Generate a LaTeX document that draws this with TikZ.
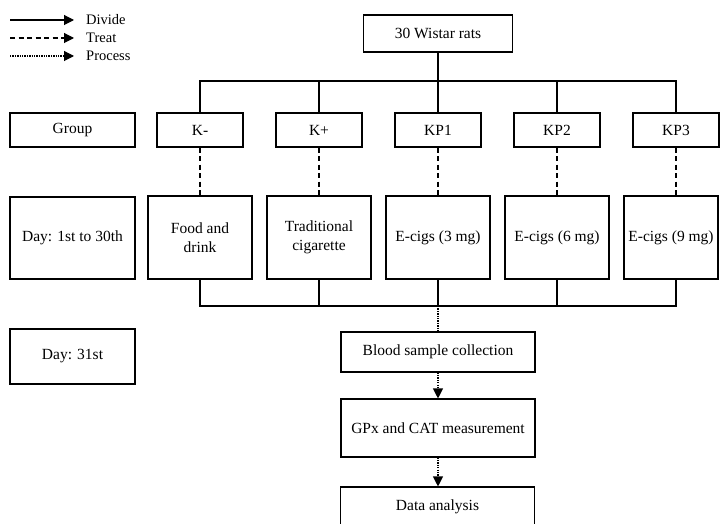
\documentclass[tikz,border=0pt]{standalone}
\usepackage{fontspec}
\setmainfont{Liberation Serif}
\usetikzlibrary{arrows.meta}
\begin{document}
\begin{tikzpicture}[x=1pt,y=-1pt,
  box/.style={draw, line width=1.1pt, inner sep=0pt, align=center, font=\fontsize{15.5}{18.5}\selectfont},
  lbl/.style={inner sep=0pt, anchor=west, font=\fontsize{14.5}{16}\selectfont},
  solidln/.style={line width=1.1pt},
  dashln/.style={line width=1.1pt, dash pattern=on 5pt off 3.5pt},
  dotln/.style={line width=1.1pt, dash pattern=on 1.3pt off 1.1pt},
  tip/.style={-{Triangle[length=10pt,width=10pt]}}
]
\useasboundingbox (0,0) rectangle (720,524);

% legend
\coordinate (la1) at (10,20);  \coordinate (lb1) at (74,20);
\coordinate (la2) at (10,38);  \coordinate (lb2) at (74,38);
\coordinate (la3) at (10,56);  \coordinate (lb3) at (74,56);
\draw[solidln,tip] (la1) -- (lb1);
\draw[dashln,tip] (la2) -- (lb2);
\draw[dotln,tip] (la3) -- (lb3);
\node[lbl] (tdiv) at (86,20) {Divide};
\node[lbl] (ttre) at (86,38) {Treat};
\node[lbl] (tpro) at (86,56) {Process};

% top
\node[box, minimum width=149pt, minimum height=37pt] (rats) at (438,33.5) {30 Wistar rats};
\coordinate (jtop) at (438,81);

% row labels
\node[box, minimum width=125pt, minimum height=34pt] (grp) at (72.5,130) {Group};
\node[box, minimum width=125pt, minimum height=82pt] (d130) at (72.5,238) {Day: 1st to 30th};
\node[box, minimum width=125pt, minimum height=55pt] (d31) at (72.5,356.5) {Day: 31st};

% groups
\node[box, minimum width=86pt, minimum height=34pt] (g1) at (200,130) {K-};
\node[box, minimum width=86pt, minimum height=34pt] (g2) at (319,130) {K+};
\node[box, minimum width=86pt, minimum height=34pt] (g3) at (438,130) {KP1};
\node[box, minimum width=86pt, minimum height=34pt] (g4) at (557,130) {KP2};
\node[box, minimum width=86pt, minimum height=34pt] (g5) at (676,130) {KP3};

% treatments
\node[box, minimum width=104pt, minimum height=83pt] (t1) at (200,237.5) {Food and\\drink};
\node[box, minimum width=104pt, minimum height=83pt] (t2) at (319,237.5) {Traditional\\cigarette};
\node[box, minimum width=104pt, minimum height=83pt] (t3) at (438,237.5) {E-cigs (3 mg)};
\node[box, minimum width=104pt, minimum height=83pt] (t4) at (557,237.5) {E-cigs (6 mg)};
\node[box, minimum width=94pt, minimum height=83pt] (t5) at (671,237.5) {E-cigs (9 mg)};

\coordinate (jbot) at (438,306);

% process
\node[box, minimum width=194pt, minimum height=40pt] (blood) at (438,352) {Blood sample collection};
\node[box, minimum width=194pt, minimum height=58pt] (gpx) at (438,428) {GPx and CAT measurement};
\node[box, minimum width=194pt, minimum height=40pt] (data) at (437.5,507) {Data analysis};

% divide connectors
\draw[solidln] (rats.south) -- (jtop);
\draw[solidln] (g1.north) -- (g1.north |- jtop) -- (g5.north |- jtop) -- (g5.north);
\draw[solidln] (g2.north) -- (g2.north |- jtop);
\draw[solidln] (g3.north) -- (g3.north |- jtop);
\draw[solidln] (g4.north) -- (g4.north |- jtop);

% treat connectors
\draw[dashln] (g1.south) -- (g1.south |- t1.north);
\draw[dashln] (g2.south) -- (g2.south |- t2.north);
\draw[dashln] (g3.south) -- (g3.south |- t3.north);
\draw[dashln] (g4.south) -- (g4.south |- t4.north);
\draw[dashln] (g5.south) -- (g5.south |- t5.north);

% bottom merge
\draw[solidln] (t1.south) -- (t1.south |- jbot) -- (g5.south |- jbot) -- (g5.south |- t5.south);
\draw[solidln] (t2.south) -- (t2.south |- jbot);
\draw[solidln] (t3.south) -- (jbot);
\draw[solidln] (t4.south) -- (t4.south |- jbot);

% process connectors
\draw[dotln] (jbot) -- (blood.north);
\draw[dotln,tip] (blood.south) -- (gpx.north);
\draw[dotln,tip] (gpx.south) -- (gpx.south |- data.north);
\end{tikzpicture}
\end{document}
